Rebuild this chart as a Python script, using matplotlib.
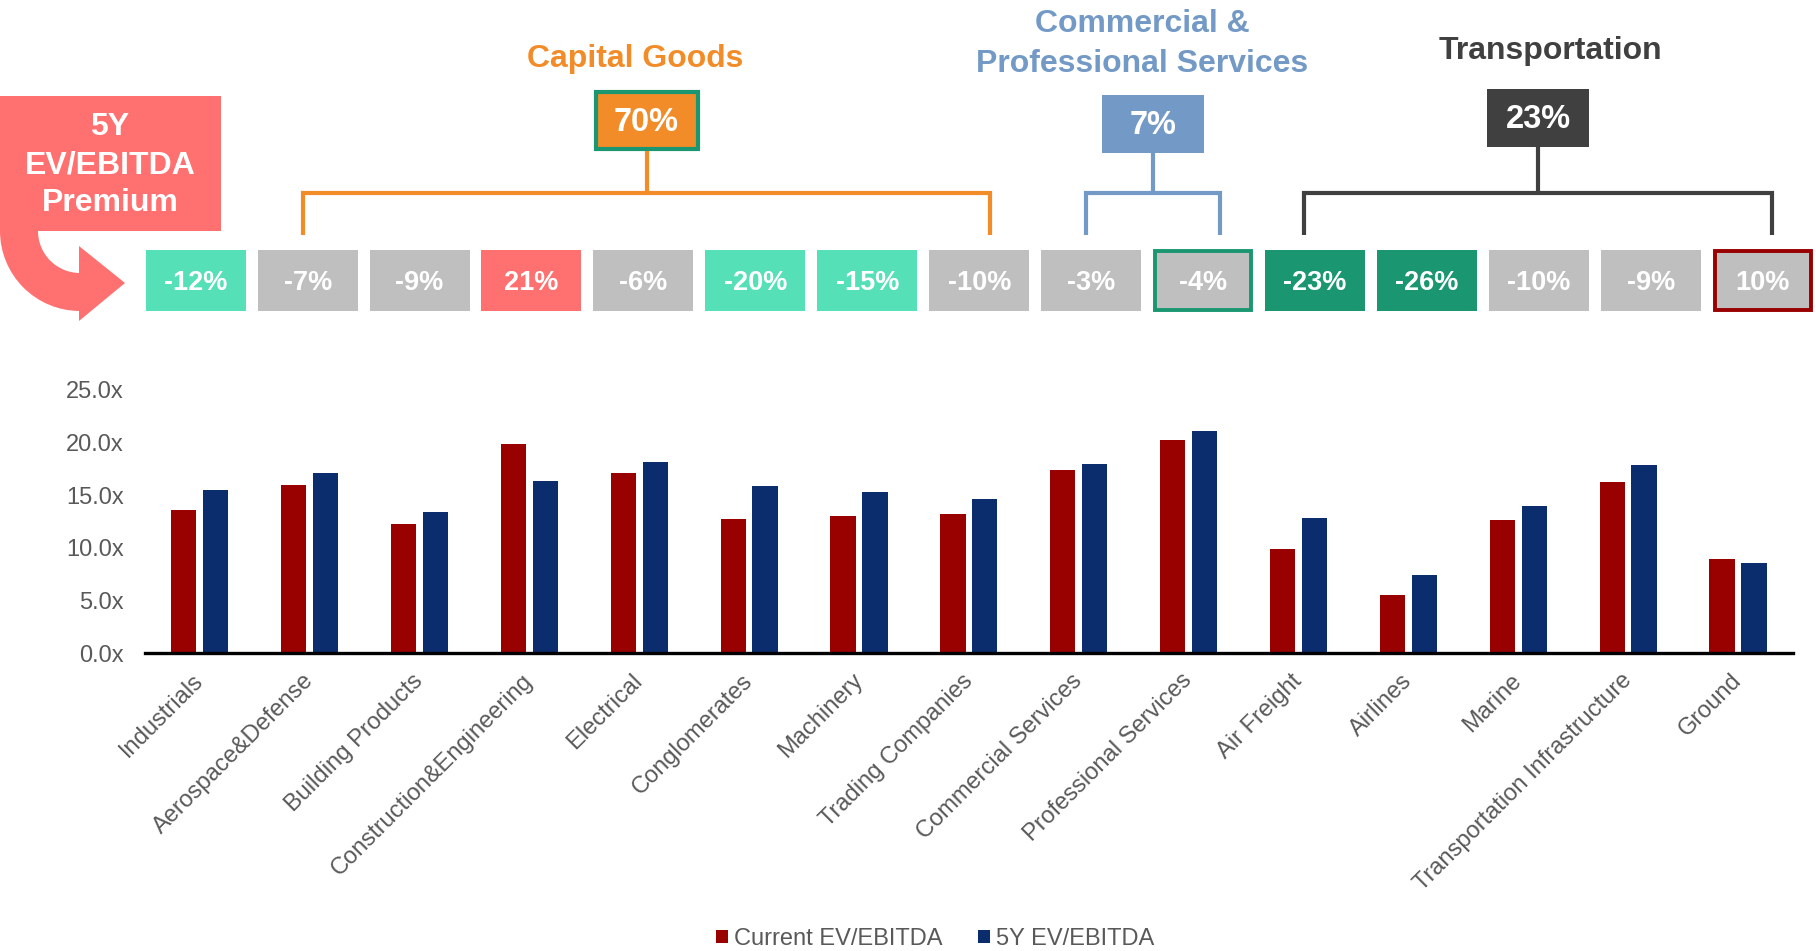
import matplotlib
matplotlib.use("Agg")
import matplotlib.pyplot as plt
import matplotlib.transforms as mtransforms
from matplotlib.patches import Rectangle, Wedge, Polygon
from matplotlib.ticker import FuncFormatter
import numpy as np

plt.rcParams['font.family'] = ['Liberation Sans', 'DejaVu Sans']

# ---------------------------------------------------------------- data
categories = ["Industrials", "Aerospace&Defense", "Building Products",
              "Construction&Engineering", "Electrical", "Conglomerates",
              "Machinery", "Trading Companies", "Commercial Services",
              "Professional Services", "Air Freight", "Airlines", "Marine",
              "Transportation Infrastructure", "Ground"]
current_ev_ebitda = [13.6, 16.0, 12.3, 19.85, 17.1, 12.7, 13.0, 13.2,
                     17.4, 20.2, 9.85, 5.5, 12.6, 16.25, 8.9]
five_year_ev_ebitda = [15.5, 17.15, 13.45, 16.35, 18.2, 15.9, 15.3, 14.65,
                       18.0, 21.1, 12.8, 7.45, 14.0, 17.9, 8.55]
premium_labels = ["-12%", "-7%", "-9%", "21%", "-6%", "-20%", "-15%", "-10%",
                  "-3%", "-4%", "-23%", "-26%", "-10%", "-9%", "10%"]
group_names = ["Capital Goods", "Commercial &\nProfessional Services", "Transportation"]
group_premiums = ["70%", "7%", "23%"]
series_names = ["Current EV/EBITDA", "5Y EV/EBITDA"]
y_ticks = [0, 5, 10, 15, 20, 25]

# ---------------------------------------------------------------- styles
RED = "#990000"
NAVY = "#0B2D6E"
MINT = "#55E0B8"
GREY = "#BFBFBF"
SALMON = "#FF7070"
GREEN = "#1A9670"
TEXT_GREY = "#595959"
premium_fill = [MINT, GREY, GREY, SALMON, GREY, MINT, MINT, GREY,
                GREY, GREY, GREEN, GREEN, GREY, GREY, GREY]
premium_edge = [None] * 9 + [GREEN] + [None] * 4 + [RED]
group_colors = ["#F28C28", "#7399C6", "#404040"]
group_box_edge = [GREEN, None, None]

W, H = 1816, 951
fig = plt.figure(figsize=(W / 100, H / 100), dpi=100)

# ---------------------------------------------------------------- bar chart
ax = fig.add_axes([144.8 / W, 1 - 653 / H, (1793 - 144.8) / W, 263 / H])
x = np.arange(len(categories))
bw, off = 0.23, 0.145
ax.bar(x - off, current_ev_ebitda, bw, color=RED, label=series_names[0])
ax.bar(x + off, five_year_ev_ebitda, bw, color=NAVY, label=series_names[1])
ax.set_xlim(-0.5, len(categories) - 0.5)
ax.set_ylim(0, 25)
ax.set_yticks(y_ticks)
ax.yaxis.set_major_formatter(FuncFormatter(lambda v, p: f"{v:.1f}x"))
for s in ["top", "right", "left"]:
    ax.spines[s].set_visible(False)
ax.spines["bottom"].set_linewidth(2.4)
ax.spines["bottom"].set_color("black")
ax.tick_params(axis="both", length=0, labelsize=17, labelcolor=TEXT_GREY)
ax.tick_params(axis="y", pad=15)
ax.tick_params(axis="x", pad=12)
ax.set_xticks(x)
ax.set_xticklabels(categories, rotation=45, ha="right", va="top")
shift = mtransforms.ScaledTranslation(8 / 100, 0, fig.dpi_scale_trans)
for lbl in ax.get_xticklabels():
    lbl.set_transform(lbl.get_transform() + shift)

handles, labels = ax.get_legend_handles_labels()
leg = fig.legend(handles, labels, loc="center", bbox_to_anchor=(0.515, 1 - 939 / H),
                 ncol=2, frameon=False, fontsize=17, handlelength=0.5,
                 handleheight=0.5, handletextpad=0.25, columnspacing=1.5)
for t in leg.get_texts():
    t.set_color(TEXT_GREY)

# ---------------------------------------------------------------- annotations (pixel space)
ov = fig.add_axes([0, 0, 1, 1], zorder=-1)
ov.set_xlim(0, W)
ov.set_ylim(H, 0)
ov.set_axis_off()

# curved call-out arrow
ov.add_patch(Rectangle((0, 96), 221, 135, color=SALMON, lw=0))
ov.add_patch(Wedge((80, 231), 80, 90, 180, width=38, color=SALMON, lw=0))
ov.add_patch(Polygon([(79, 246), (79, 321), (125, 283)], closed=True, color=SALMON, lw=0))
ov.text(110, 165, "5Y\nEV/EBITDA\nPremium", color="white", fontsize=23,
        fontweight="bold", ha="center", va="center", linespacing=1.33)

# premium boxes
bx0, bstep, bwid, btop, bht = 195.7, 111.93, 100, 250, 61
centers = [bx0 + i * bstep for i in range(len(premium_labels))]
for c, lab, fc, ec in zip(centers, premium_labels, premium_fill, premium_edge):
    if ec is None:
        ov.add_patch(Rectangle((c - bwid / 2, btop), bwid, bht, facecolor=fc, lw=0))
    else:
        ov.add_patch(Rectangle((c - bwid / 2 + 2, btop + 1), bwid - 4, bht - 2,
                               facecolor=fc, edgecolor=ec, lw=2.8))
    ov.text(c, btop + bht / 2 + 2, lab, color="white", fontsize=19.5,
            fontweight="bold", ha="center", va="center")

# group brackets, headline boxes and titles
leg_bottom, bar_y = 235, 193
bracket_left = [303, 1086, 1304]
bracket_right = [990, 1219.5, 1772]
title_x = [635, 1142, 1550]
title_y = [59, 44, 51]
gbox_top = [90, 95, 89]
gbox_w = [106, 102, 102]
gbox_h = [61, 58, 58]
for k, name in enumerate(group_names):
    col = group_colors[k]
    xl, xr = bracket_left[k], bracket_right[k]
    xm = (xl + xr) / 2
    ov.plot([xl, xl, xr, xr], [leg_bottom, bar_y, bar_y, leg_bottom], color=col,
            lw=3, solid_joinstyle="miter", solid_capstyle="butt")
    ov.plot([xm, xm], [gbox_top[k] + gbox_h[k], bar_y], color=col, lw=3,
            solid_capstyle="butt")
    ec = group_box_edge[k]
    if ec is None:
        ov.add_patch(Rectangle((xm - gbox_w[k] / 2, gbox_top[k]), gbox_w[k], gbox_h[k],
                               facecolor=col, lw=0))
    else:
        ov.add_patch(Rectangle((xm - gbox_w[k] / 2 + 2, gbox_top[k] + 2), gbox_w[k] - 4,
                               gbox_h[k] - 4, facecolor=col, edgecolor=ec, lw=3))
    ov.text(xm, gbox_top[k] + gbox_h[k] / 2 + 2, group_premiums[k], color="white",
            fontsize=23.5, fontweight="bold", ha="center", va="center")
    ov.text(title_x[k], title_y[k], name, color=col, fontsize=23, fontweight="bold",
            ha="center", va="center", linespacing=1.45)

fig.savefig("out.png", dpi=100)
